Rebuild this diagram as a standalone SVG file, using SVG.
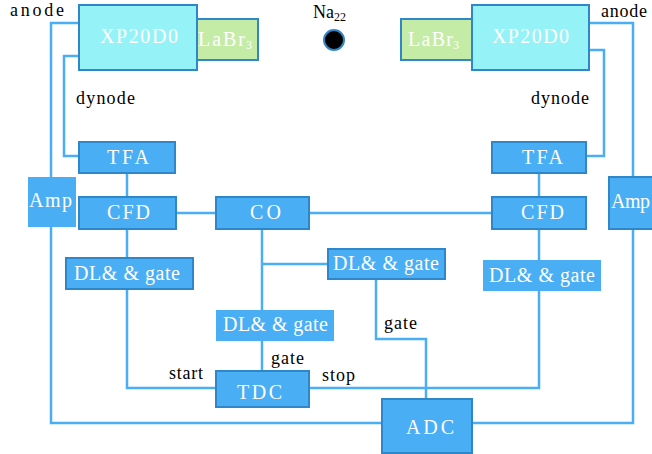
<svg xmlns="http://www.w3.org/2000/svg" width="652" height="454" viewBox="0 0 652 454" font-family="Times New Roman, Liberation Serif, Tinos, DejaVu Serif, serif">
<style>
.w{fill:#fff;font-size:20px}
.b{fill:#000;font-size:18px}
.s{font-size:12px}
.box{fill:#4aaef5;stroke:#2f86c8;stroke-width:2}
.nb{fill:#4aaef5}
.pmt{fill:#95f2f6;stroke:#2f86c8;stroke-width:2}
.lab{fill:#c5eca6;stroke:#2f86c8;stroke-width:2}
.c{fill:none;stroke:#4aaef5;stroke-width:2.5}
</style>
<rect width="652" height="454" fill="#fff"/>
<g id="connectors">
<path class="c" d="M79,23 H51 V177"/>
<path class="c" d="M51,227 V423 H382"/>
<path class="c" d="M79,56 H64 V156 H79"/>
<path class="c" d="M127,173 V197"/>
<path class="c" d="M127,229 V258"/>
<path class="c" d="M127,289 V388 H216"/>
<path class="c" d="M176,213 H216"/>
<path class="c" d="M309,213 H492"/>
<path class="c" d="M262,229 V310"/>
<path class="c" d="M262,264 H328"/>
<path class="c" d="M262,341 V371"/>
<path class="c" d="M309,388 H539 V291"/>
<path class="c" d="M539,173 V197"/>
<path class="c" d="M539,229 V260"/>
<path class="c" d="M589,50 H604 V156 H586"/>
<path class="c" d="M589,23 H633 V177"/>
<path class="c" d="M633,229 V423 H472"/>
<path class="c" d="M376,279 V339 H426 V399"/>
</g>
<g id="labels">
<text class="b" x="10" y="16" textLength="54">anode</text>
<text class="b" x="601" y="17" textLength="46">anode</text>
<text class="b" x="76" y="104" textLength="59">dynode</text>
<text class="b" x="531" y="104" textLength="58">dynode</text>
<text class="b" x="169" y="379" textLength="34">start</text>
<text class="b" x="322" y="381" textLength="33">stop</text>
<text class="b" x="271" y="364" textLength="33">gate</text>
<text class="b" x="384" y="329" textLength="33">gate</text>
</g>
<g id="source">
<text class="b" x="313" y="18">Na<tspan class="s" dy="3">22</tspan></text>
<circle cx="334" cy="40" r="10" fill="#000" stroke="#2f86c8" stroke-width="2"/>
</g>
<g id="pmt-left">
<rect class="pmt" x="79" y="5" width="118" height="65"/>
<text class="w" x="100" y="43" textLength="78">XP20D0</text>
</g>
<g id="labr-left">
<rect class="lab" x="197" y="19" width="61" height="41"/>
<text class="w" x="198" y="46" textLength="47">LaBr</text><text class="w s" x="246" y="49">3</text>
</g>
<g id="labr-right">
<rect class="lab" x="401" y="19" width="71" height="41"/>
<text class="w" x="408" y="46" textLength="45">LaBr</text><text class="w s" x="453" y="49">3</text>
</g>
<g id="pmt-right">
<rect class="pmt" x="472" y="5" width="117" height="65"/>
<text class="w" x="492" y="43" textLength="77">XP20D0</text>
</g>
<g id="tfa-left">
<rect class="box" x="79" y="142" width="96" height="31"/>
<text class="w" x="107" y="164" textLength="42">TFA</text>
</g>
<g id="tfa-right">
<rect class="box" x="492" y="142" width="94" height="31"/>
<text class="w" x="522" y="164" textLength="41">TFA</text>
</g>
<g id="amp-left">
<rect class="nb" x="28" y="177" width="48" height="50"/>
<text class="w" x="29" y="207" textLength="43">Amp</text>
</g>
<g id="amp-right">
<rect class="box" x="609" y="177" width="48" height="52"/>
<text class="w" x="611" y="208" textLength="39">Amp</text>
</g>
<g id="cfd-left">
<rect class="box" x="79" y="197" width="97" height="32"/>
<text class="w" x="107" y="219" textLength="43">CFD</text>
</g>
<g id="co">
<rect class="box" x="216" y="197" width="93" height="32"/>
<text class="w" x="250" y="219" textLength="31">CO</text>
</g>
<g id="cfd-right">
<rect class="box" x="492" y="197" width="94" height="32"/>
<text class="w" x="521" y="219" textLength="43">CFD</text>
</g>
<g id="dl-left">
<rect class="box" x="66" y="258" width="127" height="31"/>
<text class="w" x="74" y="280" textLength="106">DL&amp; &amp; gate</text>
</g>
<g id="dl-mid">
<rect class="box" x="328" y="249" width="117" height="30"/>
<text class="w" x="333" y="270" textLength="106">DL&amp; &amp; gate</text>
</g>
<g id="dl-right">
<rect class="nb" x="483" y="260" width="118" height="31"/>
<text class="w" x="489" y="282" textLength="106">DL&amp; &amp; gate</text>
</g>
<g id="dl-low">
<rect class="nb" x="216" y="310" width="118" height="31"/>
<text class="w" x="223" y="331" textLength="105">DL&amp; &amp; gate</text>
</g>
<g id="tdc">
<rect class="box" x="216" y="371" width="93" height="36"/>
<text class="w" x="237" y="399" textLength="45">TDC</text>
</g>
<g id="adc">
<rect class="box" x="382" y="399" width="90" height="54"/>
<text class="w" x="406" y="434" textLength="48">ADC</text>
</g>
</svg>
